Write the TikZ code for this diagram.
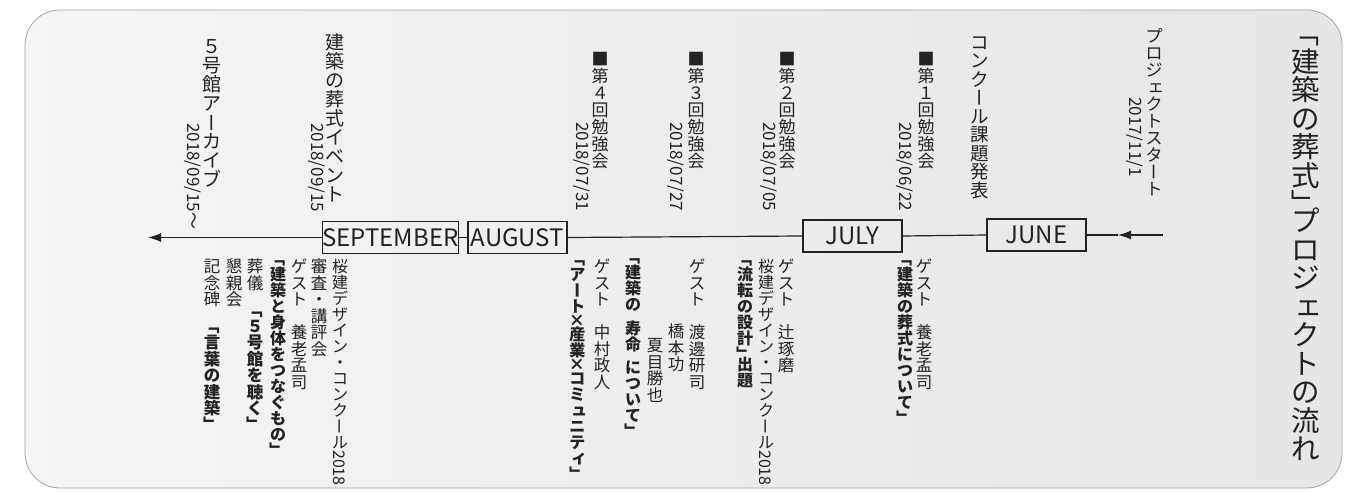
\documentclass[tikz,border=0pt]{standalone}
\usepackage{fontspec}
\usepackage{graphicx}
\setmainfont{Noto Sans CJK JP}
\usetikzlibrary{arrows.meta}
\ExplSyntaxOn
\tl_const:Nn \c_myv_open_tl {「}
\tl_const:Nn \c_myv_close_tl {」}
\tl_const:Nn \c_myv_keep_tl {ー～}
\tl_const:Nn \c_myv_small_tl {ァィゥェォッャュョっゃゅょ}
\tl_const:Nn \c_myv_narrow_tl {×}
\cs_new:Npn \myv_strut: { \rule[-0.12em]{0pt}{1em} }
\cs_new:Npn \myv_char:n #1 {
  \tl_if_in:NnTF \c_myv_open_tl {#1} { \makebox[0.6em][r]{\myv_strut: #1} }
  { \tl_if_in:NnTF \c_myv_close_tl {#1} { \makebox[0.6em][l]{\myv_strut: #1} }
  { \tl_if_in:NnTF \c_myv_keep_tl {#1} { \makebox[1em]{\myv_strut: #1} }
  { \tl_if_in:NnTF \c_myv_small_tl {#1}
      { \makebox[1em]{\hspace*{-0.06em}\raisebox{0.1em}{\rotatebox[origin=c]{90}{\makebox[1em]{\myv_strut: #1}}}\hspace*{0.06em}} }
  { \tl_if_in:NnTF \c_myv_narrow_tl {#1}
      { \rotatebox[origin=c]{90}{\makebox[1em]{\rule[-0.02em]{0pt}{0.68em}#1}} }
      { \rotatebox[origin=c]{90}{\makebox[1em]{\myv_strut: #1}} } } } } }
}
\NewDocumentCommand\tate{m}{
  \tl_map_inline:nn {#1}{ \myv_char:n {##1} }
}
\ExplSyntaxOff
\newcommand\jpsz[1]{\fontsize{#1}{#1}\selectfont}
\definecolor{ink}{HTML}{222222}
\tikzset{
  vt/.style={rotate=-90, anchor=west, inner sep=0pt, text=ink},
  month/.style={draw=ink, line width=1.3pt, minimum height=32pt, inner sep=0pt, text=ink, font=\jpsz{24}},
  tline/.style={draw=ink, line width=1.2pt},
}
\begin{document}
\begin{tikzpicture}[x=1pt,y=-1pt]
\useasboundingbox (0,0) rectangle (1348,492);
\fill[white] (0,0) rectangle (1348,492);
\shade[left color=black!4, right color=black!10, draw=black!35, line width=0.8pt, rounded corners=35pt] (25,10) rectangle (1342,488);

% title
\node[vt, font=\jpsz{28.5}] (title) at (1307,30) {\tate{「建築の葬式」プロジェクトの流れ}};

% top labels
\node[vt, font=\jpsz{17}] (t1) at (1155,27) {\tate{プロジェクトスタート}};
\node[vt, font=\jpsz{17}] (d1) at (1135,97) {2017/11/1};
\node[vt, font=\jpsz{18.5}] (t2) at (980,33) {\tate{コンクール課題発表}};
\node[vt, font=\jpsz{17}] (t3) at (926,50) {\tate{■第１回勉強会}};
\node[vt, font=\jpsz{17}] (d3) at (905,122) {2018/06/22};
\node[vt, font=\jpsz{17}] (t4) at (787,50) {\tate{■第２回勉強会}};
\node[vt, font=\jpsz{17}] (d4) at (769,122) {2018/07/05};
\node[vt, font=\jpsz{17}] (t5) at (696,50) {\tate{■第３回勉強会}};
\node[vt, font=\jpsz{17}] (d5) at (676,122) {2018/07/27};
\node[vt, font=\jpsz{17}] (t6) at (600,50) {\tate{■第４回勉強会}};
\node[vt, font=\jpsz{17}] (d6) at (582,122) {2018/07/31};
\node[vt, font=\jpsz{19}] (t7) at (335,33) {\tate{建築の葬式イベント}};
\node[vt, font=\jpsz{17}] (d7) at (317,123) {2018/09/15};
\node[vt, font=\jpsz{19}] (t8) at (212,37) {\tate{５号館アーカイブ}};
\node[vt, font=\jpsz{17}] (d8) at (193,123) {2018/09/15\tate{～}};

% timeline
\node[month, minimum width=99pt] (jun) at (1036.5,235) {JUNE};
\node[month, minimum width=99pt] (jul) at (852.5,236) {JULY};
\node[month, minimum width=99pt] (aug) at (517.5,237.5) {AUGUST};
\node[month, minimum width=135pt] (sep) at (390.5,237.5) {SEPTEMBER};
\coordinate (start) at (1163,235);
\coordinate (mid) at (1118,235);
\coordinate (endp) at (148,237.5);
\draw[tline, -{Latex[length=13pt,width=9pt]}] (start) -- (mid);
\draw[tline] (mid) -- (jun.east);
\draw[tline] (jun.west) -- (jul.east);
\draw[tline] (jul.west) -- (aug.east);
\draw[tline] (aug.west) -- (sep.east);
\draw[tline, -{Latex[length=13pt,width=9pt]}] (sep.west) -- (endp);

% bottom labels
\node[vt, font=\jpsz{16.5}] (b1) at (924,258) {\tate{ゲスト　養老孟司}};
\node[vt, font=\jpsz{16}\bfseries] (b2) at (905,257) {\tate{「建築の葬式について」}};
\node[vt, font=\jpsz{16.5}] (b3) at (786,258) {\tate{ゲスト　辻琢磨}};
\node[vt, font=\jpsz{16}] (b4) at (766,258) {\tate{桜建デザイン・コンクール}2018};
\node[vt, font=\jpsz{16}\bfseries] (b5) at (745,257) {\tate{「流転の設計」出題}};
\node[vt, font=\jpsz{16.5}] (b6) at (697,258) {\tate{ゲスト　渡邊研司}};
\node[vt, font=\jpsz{16.5}] (b7) at (676,323) {\tate{橋本功}};
\node[vt, font=\jpsz{16.5}] (b8) at (655,337) {\tate{夏目勝也}};
\node[vt, font=\jpsz{16}\bfseries] (b9) at (633,255) {\tate{「建築の}\hspace{0.45em}\tate{寿命}\hspace{0.45em}\tate{について」}};
\node[vt, font=\jpsz{16.5}] (b10) at (602,258) {\tate{ゲスト　中村政人}};
\node[vt, font=\jpsz{16}\bfseries] (b11) at (578,257) {\tate{「アート×産業×コミュニティ」}};

\node[vt, font=\jpsz{16}] (s1) at (340,258) {\tate{桜建デザイン・コンクール}2018};
\node[vt, font=\jpsz{16.5}] (s2) at (319,258) {\tate{審査・講評会}};
\node[vt, font=\jpsz{16.5}] (s3) at (299,258) {\tate{ゲスト　養老孟司}};
\node[vt, font=\jpsz{16}\bfseries] (s4) at (278,257) {\tate{「建築と身体をつなぐもの」}};
\node[vt, font=\jpsz{16.5}] (s5) at (255,258) {\tate{葬儀　}{\bfseries\tate{「５号館を聴く」}}};
\node[vt, font=\jpsz{16.5}] (s6) at (234,258) {\tate{懇親会}};
\node[vt, font=\jpsz{16.5}] (s7) at (212,258) {\tate{記念碑　}{\bfseries\tate{「言葉の建築」}}};
\end{tikzpicture}
\end{document}
